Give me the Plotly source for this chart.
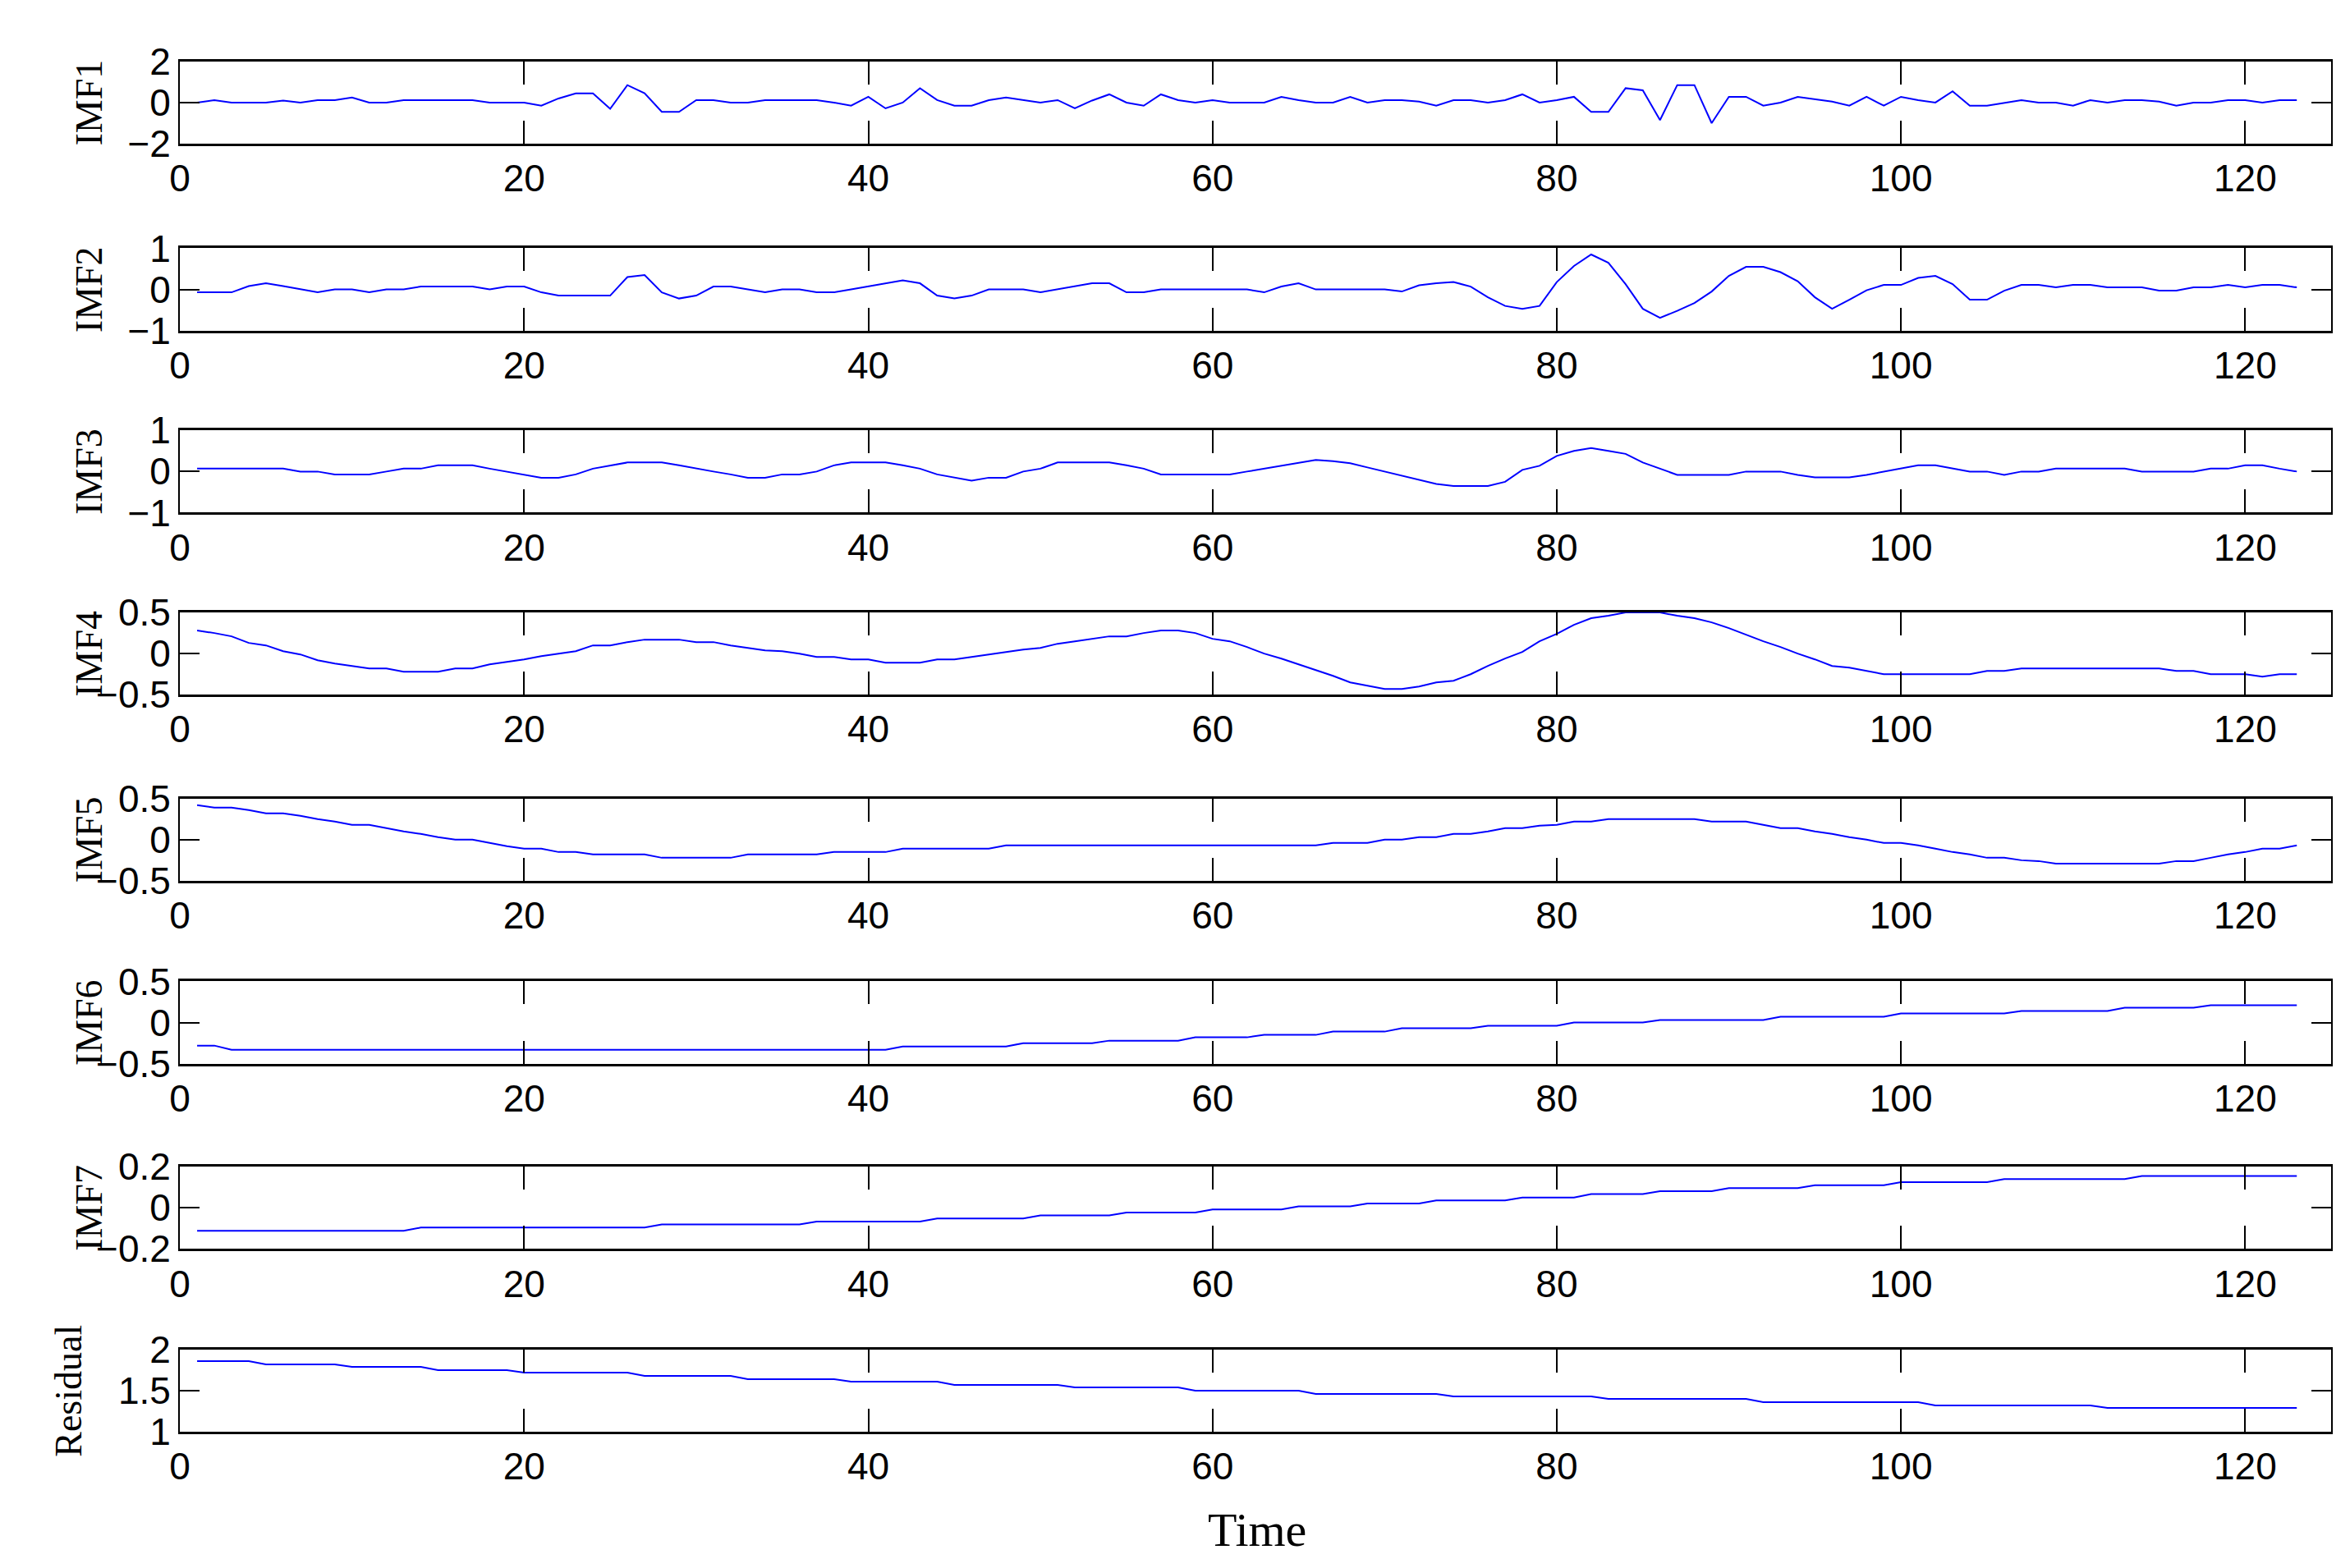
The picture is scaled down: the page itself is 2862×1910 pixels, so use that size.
import plotly.graph_objects as go

time = list(range(1, 124))

imf1 = [0,0.12,0,0,0,0.1,0,0.12,0.12,0.25,
        0,0,0.12,0.12,0.12,0.12,0.12,0,0,0,
        -0.15,0.2,0.45,0.45,-0.3,0.85,0.45,-0.45,-0.45,0.12,
        0.12,0,0,0.12,0.12,0.12,0.12,0,-0.15,0.28,
        -0.28,0,0.7,0.12,-0.15,-0.15,0.12,0.25,0.12,0,
        0.12,-0.28,0.1,0.4,0,-0.15,0.4,0.12,0,0.12,
        0,0,0,0.28,0.12,0,0,0.28,0,0.12,
        0.12,0.05,-0.15,0.12,0.12,0,0.12,0.4,0,0.12,
        0.28,-0.45,-0.45,0.7,0.6,-0.85,0.85,0.85,-1,0.28,
        0.28,-0.15,0,0.28,0.15,0.05,-0.15,0.28,-0.15,0.28,
        0.12,0,0.55,-0.15,-0.15,0,0.12,0,0,-0.15,
        0.12,0,0.12,0.12,0.05,-0.15,0,0,0.12,0.12,
        0,0.12,0.12]

imf2 = [-0.07,-0.07,-0.07,0.08,0.15,0.08,0,-0.07,0,0,
        -0.07,0,0,0.07,0.07,0.07,0.07,0,0.07,0.07,
        -0.07,-0.15,-0.15,-0.15,-0.15,0.3,0.35,-0.07,-0.22,-0.15,
        0.07,0.07,0,-0.07,0,0,-0.07,-0.07,0,0.07,
        0.15,0.22,0.15,-0.15,-0.22,-0.15,0,0,0,-0.07,
        0,0.07,0.15,0.15,-0.07,-0.07,0,0,0,0,
        0,0,-0.07,0.07,0.15,0,0,0,0,0,
        -0.05,0.1,0.15,0.18,0.07,-0.19,-0.4,-0.47,-0.4,0.18,
        0.57,0.85,0.65,0.13,-0.47,-0.69,-0.52,-0.33,-0.05,0.33,
        0.55,0.55,0.42,0.2,-0.19,-0.47,-0.25,-0.02,0.11,0.11,
        0.28,0.33,0.13,-0.25,-0.25,-0.03,0.11,0.11,0.05,0.11,
        0.11,0.05,0.05,0.05,-0.03,-0.03,0.05,0.05,0.11,0.05,
        0.11,0.11,0.05]

imf3 = [0.07,0.07,0.07,0.07,0.07,0.07,0,0,-0.07,-0.07,
        -0.07,0,0.07,0.07,0.15,0.15,0.15,0.07,0,-0.07,
        -0.15,-0.15,-0.07,0.07,0.15,0.22,0.22,0.22,0.15,0.07,
        0,-0.07,-0.15,-0.15,-0.07,-0.07,0,0.15,0.22,0.22,
        0.22,0.15,0.07,-0.07,-0.15,-0.22,-0.15,-0.15,0,0.07,
        0.22,0.22,0.22,0.22,0.15,0.07,-0.07,-0.07,-0.07,-0.07,
        -0.07,0,0.07,0.15,0.22,0.28,0.25,0.2,0.1,0,
        -0.1,-0.2,-0.3,-0.35,-0.35,-0.35,-0.25,0.04,0.14,0.38,
        0.5,0.57,0.5,0.43,0.22,0.07,-0.08,-0.08,-0.08,-0.08,
        0,0,0,-0.08,-0.14,-0.14,-0.14,-0.08,0,0.07,
        0.15,0.15,0.07,0,0,-0.08,0,0,0.07,0.07,
        0.07,0.07,0.07,0,0,0,0,0.07,0.07,0.15,
        0.15,0.07,0]

imf4 = [0.28,0.25,0.21,0.13,0.1,0.03,-0.01,-0.08,-0.12,-0.15,
        -0.18,-0.18,-0.22,-0.22,-0.22,-0.18,-0.18,-0.13,-0.1,-0.07,
        -0.03,0,0.03,0.1,0.1,0.14,0.17,0.17,0.17,0.14,
        0.14,0.1,0.07,0.04,0.03,0,-0.04,-0.04,-0.07,-0.07,
        -0.11,-0.11,-0.11,-0.07,-0.07,-0.04,-0.01,0.02,0.05,0.07,
        0.12,0.15,0.18,0.21,0.21,0.25,0.28,0.28,0.25,0.18,
        0.15,0.08,0,-0.06,-0.13,-0.2,-0.27,-0.35,-0.39,-0.43,
        -0.43,-0.4,-0.35,-0.33,-0.25,-0.15,-0.06,0.02,0.15,0.24,
        0.35,0.43,0.46,0.5,0.5,0.5,0.46,0.43,0.38,0.31,
        0.23,0.15,0.08,0,-0.07,-0.15,-0.17,-0.21,-0.25,-0.25,
        -0.25,-0.25,-0.25,-0.25,-0.21,-0.21,-0.18,-0.18,-0.18,-0.18,
        -0.18,-0.18,-0.18,-0.18,-0.18,-0.21,-0.21,-0.25,-0.25,-0.25,
        -0.28,-0.25,-0.25]

imf5 = [0.42,0.39,0.39,0.36,0.32,0.32,0.29,0.25,0.22,0.18,
        0.18,0.14,0.1,0.07,0.03,0,0,-0.04,-0.08,-0.11,
        -0.11,-0.15,-0.15,-0.18,-0.18,-0.18,-0.18,-0.22,-0.22,-0.22,
        -0.22,-0.22,-0.18,-0.18,-0.18,-0.18,-0.18,-0.15,-0.15,-0.15,
        -0.15,-0.11,-0.11,-0.11,-0.11,-0.11,-0.11,-0.07,-0.07,-0.07,
        -0.07,-0.07,-0.07,-0.07,-0.07,-0.07,-0.07,-0.07,-0.07,-0.07,
        -0.07,-0.07,-0.07,-0.07,-0.07,-0.07,-0.04,-0.04,-0.04,0,
        0,0.03,0.03,0.07,0.07,0.1,0.14,0.14,0.17,0.18,
        0.22,0.22,0.25,0.25,0.25,0.25,0.25,0.25,0.22,0.22,
        0.22,0.18,0.14,0.14,0.1,0.07,0.03,0,-0.04,-0.04,
        -0.07,-0.11,-0.15,-0.18,-0.22,-0.22,-0.25,-0.26,-0.29,-0.29,
        -0.29,-0.29,-0.29,-0.29,-0.29,-0.26,-0.26,-0.22,-0.18,-0.15,
        -0.11,-0.11,-0.07]

imf6 = [-0.28,-0.28,-0.33,-0.33,-0.33,-0.33,-0.33,-0.33,-0.33,-0.33,
        -0.33,-0.33,-0.33,-0.33,-0.33,-0.33,-0.33,-0.33,-0.33,-0.33,
        -0.33,-0.33,-0.33,-0.33,-0.33,-0.33,-0.33,-0.33,-0.33,-0.33,
        -0.33,-0.33,-0.33,-0.33,-0.33,-0.33,-0.33,-0.33,-0.33,-0.33,
        -0.33,-0.29,-0.29,-0.29,-0.29,-0.29,-0.29,-0.29,-0.25,-0.25,
        -0.25,-0.25,-0.25,-0.22,-0.22,-0.22,-0.22,-0.22,-0.18,-0.18,
        -0.18,-0.18,-0.15,-0.15,-0.15,-0.15,-0.11,-0.11,-0.11,-0.11,
        -0.07,-0.07,-0.07,-0.07,-0.07,-0.04,-0.04,-0.04,-0.04,-0.04,
        0,0,0,0,0,0.03,0.03,0.03,0.03,0.03,
        0.03,0.03,0.07,0.07,0.07,0.07,0.07,0.07,0.07,0.11,
        0.11,0.11,0.11,0.11,0.11,0.11,0.14,0.14,0.14,0.14,
        0.14,0.14,0.18,0.18,0.18,0.18,0.18,0.21,0.21,0.21,
        0.21,0.21,0.21]

imf7 = [-0.112,-0.112,-0.112,-0.112,-0.112,-0.112,-0.112,-0.112,-0.112,-0.112,
        -0.112,-0.112,-0.112,-0.096,-0.096,-0.096,-0.096,-0.096,-0.096,-0.096,
        -0.096,-0.096,-0.096,-0.096,-0.096,-0.096,-0.096,-0.081,-0.081,-0.081,
        -0.081,-0.081,-0.081,-0.081,-0.081,-0.081,-0.067,-0.067,-0.067,-0.067,
        -0.067,-0.067,-0.067,-0.052,-0.052,-0.052,-0.052,-0.052,-0.052,-0.037,
        -0.037,-0.037,-0.037,-0.037,-0.023,-0.023,-0.023,-0.023,-0.023,-0.008,
        -0.008,-0.008,-0.008,-0.008,0.007,0.007,0.007,0.007,0.021,0.021,
        0.021,0.021,0.036,0.036,0.036,0.036,0.036,0.05,0.05,0.05,
        0.05,0.067,0.067,0.067,0.067,0.081,0.081,0.081,0.081,0.096,
        0.096,0.096,0.096,0.096,0.11,0.11,0.11,0.11,0.11,0.125,
        0.125,0.125,0.125,0.125,0.125,0.14,0.14,0.14,0.14,0.14,
        0.14,0.14,0.14,0.155,0.155,0.155,0.155,0.155,0.155,0.155,
        0.155,0.155,0.155]

residual = [1.86,1.86,1.86,1.86,1.82,1.82,1.82,1.82,1.82,1.79,
            1.79,1.79,1.79,1.79,1.75,1.75,1.75,1.75,1.75,1.72,
            1.72,1.72,1.72,1.72,1.72,1.72,1.68,1.68,1.68,1.68,
            1.68,1.68,1.64,1.64,1.64,1.64,1.64,1.64,1.61,1.61,
            1.61,1.61,1.61,1.61,1.57,1.57,1.57,1.57,1.57,1.57,
            1.57,1.54,1.54,1.54,1.54,1.54,1.54,1.54,1.5,1.5,
            1.5,1.5,1.5,1.5,1.5,1.46,1.46,1.46,1.46,1.46,
            1.46,1.46,1.46,1.43,1.43,1.43,1.43,1.43,1.43,1.43,
            1.43,1.43,1.4,1.4,1.4,1.4,1.4,1.4,1.4,1.4,
            1.4,1.36,1.36,1.36,1.36,1.36,1.36,1.36,1.36,1.36,
            1.36,1.32,1.32,1.32,1.32,1.32,1.32,1.32,1.32,1.32,
            1.32,1.29,1.29,1.29,1.29,1.29,1.29,1.29,1.29,1.29,
            1.29,1.29,1.29]

names = ["IMF1", "IMF2", "IMF3", "IMF4", "IMF5", "IMF6", "IMF7", "Residual"]
series = [imf1, imf2, imf3, imf4, imf5, imf6, imf7, residual]
yranges = [[-2, 2], [-1, 1], [-1, 1], [-0.5, 0.5], [-0.5, 0.5], [-0.5, 0.5], [-0.2, 0.2], [1, 2]]
yticks = [[-2, 0, 2], [-1, 0, 1], [-1, 0, 1], [-0.5, 0, 0.5], [-0.5, 0, 0.5], [-0.5, 0, 0.5],
          [-0.2, 0, 0.2], [1, 1.5, 2]]
xticks = [0, 20, 40, 60, 80, 100, 120]

W, H = 2862, 1910
tops = [42, 276, 504, 732, 965, 1194, 1426, 1655]
ph = 103
x0, x1 = 199 / W, 2831 / W
label_x = [88, 88, 88, 88, 88, 88, 88, 62]

tickfont = dict(family="Liberation Sans, Arial", size=46, color="black")
fig = go.Figure()
annotations = []
for i, (nm, s) in enumerate(zip(names, series)):
    k = "" if i == 0 else str(i + 1)
    fig.add_trace(go.Scatter(x=time, y=s, mode="lines", line=dict(color="#0000FF", width=2),
                             xaxis="x" + k, yaxis="y" + k, showlegend=False))
    dom = [1 - (tops[i] + ph) / H, 1 - tops[i] / H]
    fig.layout["xaxis" + k] = dict(domain=[x0, x1], range=[0, 125], tickvals=xticks,
                                   ticks="inside", ticklen=28, tickwidth=2, tickcolor="black",
                                   showline=True, linecolor="black", linewidth=3, mirror="ticks",
                                   showgrid=False, zeroline=False, tickfont=tickfont,
                                   anchor="y" + k)
    fig.layout["yaxis" + k] = dict(domain=dom, range=yranges[i], tickvals=yticks[i],
                                   ticks="inside", ticklen=24, tickwidth=2, tickcolor="black",
                                   showline=True, linecolor="black", linewidth=2, mirror="ticks",
                                   showgrid=False, zeroline=False, tickfont=tickfont,
                                   anchor="x" + k)
    annotations.append(dict(text=nm, x=label_x[i] / W, y=(dom[0] + dom[1]) / 2, xref="paper", yref="paper",
                            textangle=-90, showarrow=False, xanchor="center", yanchor="middle",
                            font=dict(family="Liberation Serif, Times New Roman", size=46, color="black")))

annotations.append(dict(text="Time", x=1517 / W, y=1 - 1881 / H, xref="paper", yref="paper",
                        showarrow=False, xanchor="center", yanchor="middle",
                        font=dict(family="Liberation Serif, Times New Roman", size=58, color="black")))

fig.update_layout(width=W, height=H, margin=dict(l=0, r=0, t=0, b=0),
                  plot_bgcolor="white", paper_bgcolor="white", annotations=annotations)

fig.write_html("out.html")
